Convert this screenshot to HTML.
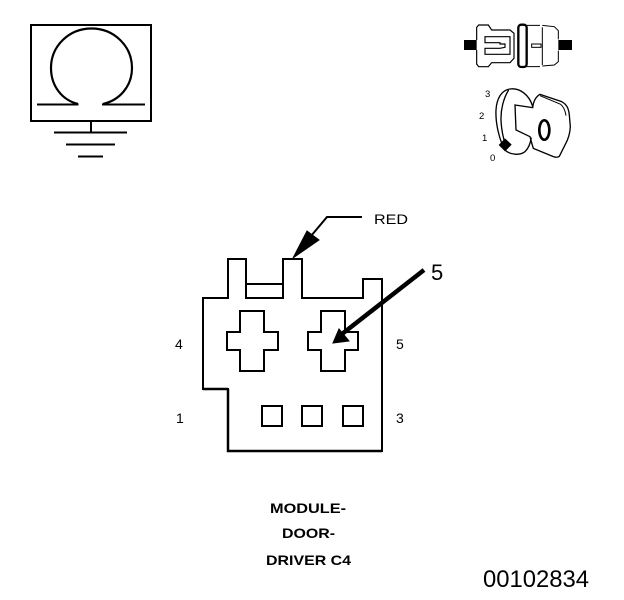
<!DOCTYPE html>
<html>
<head>
<meta charset="utf-8">
<style>
html,body{margin:0;padding:0;background:#fff;}
svg{display:block;}
text{font-family:"Liberation Sans",sans-serif;fill:#000;}
</style>
</head>
<body>
<svg width="624" height="600" viewBox="0 0 624 600" xmlns="http://www.w3.org/2000/svg" fill="none" stroke="#000">
<!-- Ground symbol -->
<rect x="31" y="25" width="120" height="96" stroke-width="2"/>
<path d="M78 104 C62 100 51 86 51 68 C51 46 69 28.500 91.500 28.500 C114 28.500 132 46 132 68 C132 86 120 100 103 104" stroke-width="2.200"/>
<path d="M37 104.500H78.500M102 104.500H145" stroke-width="2"/>
<path d="M91 121V133" stroke-width="2"/>
<path d="M54 132.500H127M66 144.500H115M78 156.500H103" stroke-width="2"/>

<!-- Plug icon: left part -->
<g transform="translate(460 20) scale(.33333)" stroke-width="3.500">
<rect x="12" y="60" width="38" height="30" fill="#000" stroke="none"/>
<path d="M50 60V22L56 15H85L95 30H150L162 40V115L150 128H95L85 140H56L50 132V90"/>
<path d="M75 50H150V103H75V85H120L135 82V72H120V68H75Z"/>
</g>
<!-- Plug icon: right part -->
<g transform="translate(455 10) scale(.33333)">
<rect x="310" y="90" width="41" height="30" fill="#000" stroke="none"/>
<rect x="190" y="44" width="25" height="127" rx="9" stroke-width="7"/>
<path d="M215 46H255M262 46L298 50L310 62V88M310 122V155L298 165L262 168M255 170H215" stroke-width="3"/>
<path d="M262 52V165" stroke-width="3"/>
<rect x="230" y="102" width="28" height="10" stroke-width="3"/>
</g>

<!-- Key icon -->
<g transform="translate(490 85) scale(.33333)" stroke-width="4">
<path d="M60 12C35 15 20 40 18 75C16 115 28 165 45 195C60 210 90 212 105 200C118 188 122 170 124 158"/>
<path d="M60 12C90 8 118 30 128 64"/>
<path d="M56 15C40 40 32 75 33 105C34 130 38 150 42 165"/>
<path d="M75 60L128 68C130 50 138 35 150 28L215 50C230 58 236 70 238 90L241 125C240 145 236 160 226 178L208 214C204 217 196 217 190 215L130 190C126 178 123 165 120 155L78 135Z"/>
<path d="M150 32L212 58C222 66 226 78 228 92" stroke-width="3"/>
<path d="M45 160L65 179L45 199L26 180Z" fill="#000" stroke="none"/>
<ellipse cx="163" cy="135" rx="15" ry="29" stroke-width="8"/>
</g>
<g stroke="none" font-size="9.500">
<text x="485" y="97">3</text>
<text x="479" y="119">2</text>
<text x="482" y="141">1</text>
<text x="490" y="161">0</text>
</g>

<!-- Connector -->
<path d="M203 389V298H228V259H246V298H283V259H302V298H363V279H382V451H228V389Z" stroke-width="2"/>
<path d="M203 389H228" stroke-width="2.500"/>
<path d="M228 389V451H382" stroke-width="2.500"/>
<path d="M246 284H283" stroke-width="2"/>
<path d="M240 311H264V332H278V350H264V371H240V350H227V332H240Z" stroke-width="2"/>
<path d="M321 311H345V332H358V350H345V371H321V350H308V332H321Z" stroke-width="2"/>
<rect x="262" y="406" width="20" height="20" stroke-width="2"/>
<rect x="302" y="406" width="20" height="20" stroke-width="2"/>
<rect x="343" y="406" width="20" height="20" stroke-width="2"/>

<!-- Red pointer -->
<path d="M362 217H327L311 236" stroke-width="2"/>
<path d="M293 258L307 231L319 240Z" fill="#000" stroke="#000" stroke-width="1"/>
<!-- Pointer 5 -->
<path d="M424 270L342 334" stroke-width="4.500"/>
<path d="M333 343L339 329L349 341Z" fill="#000" stroke="#000" stroke-width="1"/>

<g stroke="none">
<text x="374" y="224" font-size="14" textLength="34" lengthAdjust="spacingAndGlyphs">RED</text>
<text x="431" y="280" font-size="22">5</text>
<text x="175" y="349" font-size="14">4</text>
<text x="396" y="349" font-size="14">5</text>
<text x="176" y="423" font-size="14">1</text>
<text x="396" y="423" font-size="14">3</text>
<g font-size="14" font-weight="bold">
<text x="270" y="513" textLength="76" lengthAdjust="spacingAndGlyphs">MODULE-</text>
<text x="282" y="538" textLength="53" lengthAdjust="spacingAndGlyphs">DOOR-</text>
<text x="266" y="565" textLength="85" lengthAdjust="spacingAndGlyphs">DRIVER C4</text>
</g>
<text x="483" y="587" font-size="24" textLength="106" lengthAdjust="spacingAndGlyphs">00102834</text>
</g>
</svg>
</body>
</html>
